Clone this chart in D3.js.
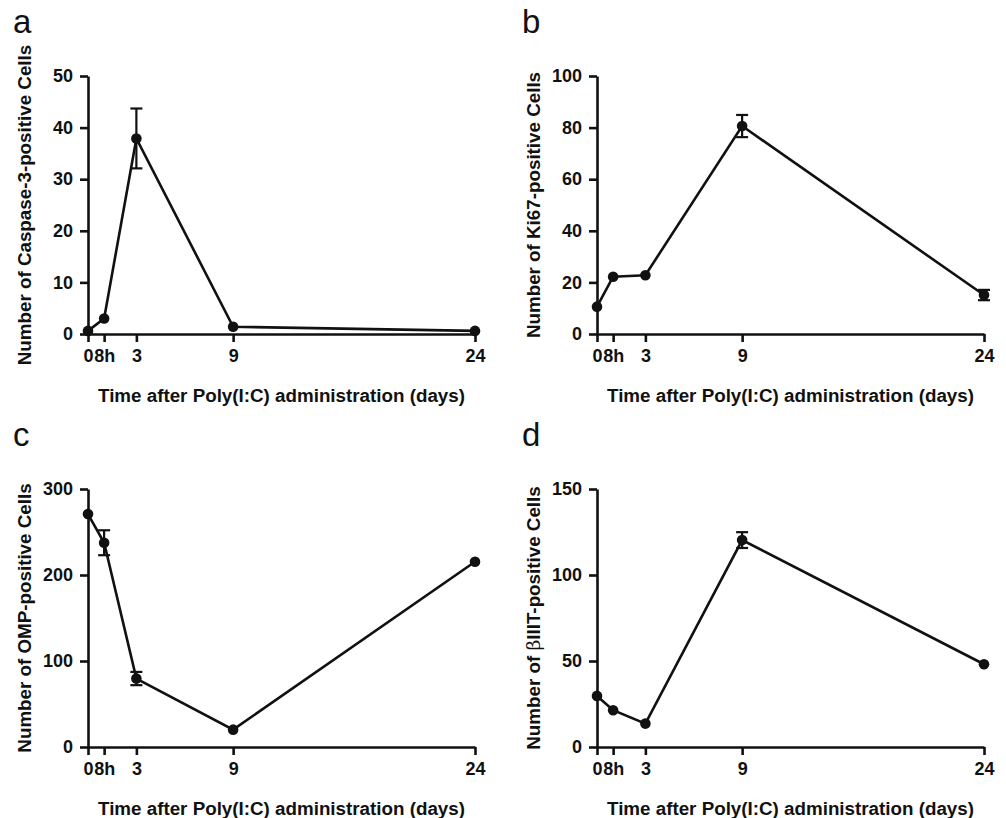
<!DOCTYPE html>
<html>
<head>
<meta charset="utf-8">
<script src="https://cdn.jsdelivr.net/npm/d3@7"></script>
<style>
  body { margin: 0; background: #fff; }
  svg { display: block; font-family: "Liberation Sans", Arial, sans-serif; }
  .axis path, .axis line { stroke: #111; stroke-width: 2.6; }
  .axis text { font-size: 18px; font-weight: bold; fill: #111; }
  .title { font-size: 18.8px; font-weight: bold; fill: #111; }
  .letter { font-size: 33px; fill: #111; }
</style>
</head>
<body>
<svg id="chart" width="1006" height="818"></svg>
<script>
// time points (days); 8h plotted at position 1
var days = [0, 1, 3, 9, 24]
var dayLabels = ["0", "8h", "3", "9", "24"]

var caspaseMean = [0.6, 3.0, 37.9, 1.4, 0.6]
var caspaseErr = [0, 0, 5.8, 0, 0]
var caspaseTicks = [0, 10, 20, 30, 40, 50]

var ki67Mean = [10.6, 22.2, 22.8, 80.6, 15.1]
var ki67Err = [0, 0, 0, 4.3, 2.0]
var ki67Ticks = [0, 20, 40, 60, 80, 100]

var ompMean = [270.9, 237.5, 79.6, 20.2, 215.4]
var ompErr = [0, 14.5, 7.7, 0, 0]
var ompTicks = [0, 100, 200, 300]

var tubulinMean = [29.7, 21.4, 13.6, 120.3, 48.1]
var tubulinErr = [0, 0, 0, 4.6, 0]
var tubulinTicks = [0, 50, 100, 150]

var xTitle = "Time after Poly(I:C) administration (days)"

var panels = [
  { letter: "a", left: 88, top: 76, mean: caspaseMean, err: caspaseErr, ticks: caspaseTicks,
    yTitle: ["Number of Caspase-3-positive Cells"] },
  { letter: "b", left: 597, top: 76, mean: ki67Mean, err: ki67Err, ticks: ki67Ticks,
    yTitle: ["Number of Ki67-positive Cells"] },
  { letter: "c", left: 88, top: 489, mean: ompMean, err: ompErr, ticks: ompTicks,
    yTitle: ["Number of OMP-positive Cells"] },
  { letter: "d", left: 597, top: 489, mean: tubulinMean, err: tubulinErr, ticks: tubulinTicks,
    yTitle: ["Number of ", "\u03b2", "IIIT-positive Cells"] }
]

var width = 387
var height = 258

var svg = d3.select("#chart")

panels.forEach(function(p) {
  var x = d3.scaleLinear().domain([0, 24]).range([0, width])
  var y = d3.scaleLinear()
    .domain([0, d3.max(p.ticks)])
    .range([height, 0])

  var g = svg.append("g")
    .attr("transform", "translate(" + p.left + "," + p.top + ")")

  g.append("g")
    .attr("class", "axis")
    .call(d3.axisLeft(y).tickValues(p.ticks).tickSize(8).tickSizeOuter(0).tickPadding(7))

  g.append("g")
    .attr("class", "axis")
    .attr("transform", "translate(0," + height + ")")
    .call(d3.axisBottom(x).tickValues(days).tickSize(8).tickSizeOuter(0).tickPadding(7)
      .tickFormat(function(d, i) { return dayLabels[i] }))

  var line = d3.line()
    .x(function(d, i) { return x(days[i]) })
    .y(function(d) { return y(d) })

  g.append("path")
    .datum(p.mean)
    .attr("fill", "none")
    .attr("stroke", "#111")
    .attr("stroke-width", 2.6)
    .attr("d", line)

  // error bars only where the SEM shows past the marker
  var withErr = p.mean.map(function(d, i) { return { x: days[i], v: d, e: p.err[i] } })
    .filter(function(d) { return d.e > 0 })

  var eb = g.selectAll(".err")
    .data(withErr)
    .enter().append("g")
    .attr("class", "err")
    .attr("stroke", "#111")
    .attr("stroke-width", 2.2)

  eb.append("line")
    .attr("x1", function(d) { return x(d.x) })
    .attr("x2", function(d) { return x(d.x) })
    .attr("y1", function(d) { return y(d.v + d.e) })
    .attr("y2", function(d) { return y(d.v - d.e) })

  ;[1, -1].forEach(function(s) {
    eb.append("line")
      .attr("x1", function(d) { return x(d.x) - 6 })
      .attr("x2", function(d) { return x(d.x) + 6 })
      .attr("y1", function(d) { return y(d.v + s * d.e) })
      .attr("y2", function(d) { return y(d.v + s * d.e) })
  })

  g.selectAll(".dot")
    .data(p.mean)
    .enter().append("circle")
    .attr("class", "dot")
    .attr("cx", function(d, i) { return x(days[i]) })
    .attr("cy", function(d) { return y(d) })
    .attr("r", 5.3)
    .attr("fill", "#111")

  g.append("text")
    .attr("class", "title")
    .attr("text-anchor", "middle")
    .attr("x", width / 2)
    .attr("y", height + 68)
    .text(xTitle)

  var yt = g.append("text")
    .attr("class", "title")
    .attr("text-anchor", "middle")
    .attr("transform", "translate(-57," + (height / 2) + ") rotate(-90)")
  p.yTitle.forEach(function(s) {
    var ts = yt.append("tspan").text(s)
    if (s === "\u03b2") ts.attr("font-weight", "normal").attr("font-family", "DejaVu Serif, serif")
  })

  g.append("text")
    .attr("class", "letter")
    .attr("x", -75)
    .attr("y", -43)
    .text(p.letter)
})
</script>
</body>
</html>
